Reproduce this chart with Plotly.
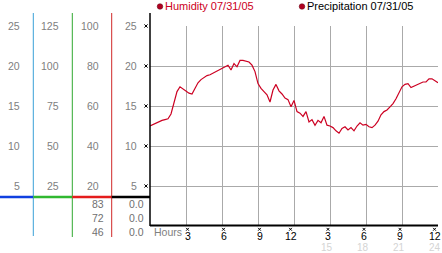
import plotly.graph_objects as go

# ---------------- data ----------------
hours = [i * 0.25 for i in range(97)]
humidity = [
    12.5, 12.7, 12.9, 13.1, 13.2, 13.3, 13.4, 14.0, 15.3, 16.8, 17.4, 17.1,
    16.9, 16.6, 16.5, 17.2, 17.9, 18.3, 18.6, 18.8, 18.9, 19.1, 19.3, 19.5,
    19.7, 19.9, 20.1, 19.5, 20.3, 19.9, 20.7, 20.7, 20.6, 20.5, 20.1, 19.3,
    17.8, 17.2, 16.8, 16.4, 15.5, 17.0, 17.7, 16.9, 16.5, 16.0, 15.8, 14.9,
    15.7, 14.3, 14.1, 13.7, 14.3, 13.0, 13.3, 12.6, 13.2, 12.9, 13.7, 12.6,
    12.5, 12.3, 11.9, 11.6, 12.2, 12.4, 12.0, 12.3, 11.9, 12.5, 12.9, 12.6,
    12.7, 12.4, 12.3, 12.6, 13.1, 13.9, 14.3, 14.5, 14.9, 15.3, 15.9, 16.6,
    17.4, 17.7, 17.8, 17.3, 17.5, 17.6, 17.8, 18.0, 18.0, 18.4, 18.4, 18.2,
    17.9,
]
tick_hours = [3, 6, 9, 12, 15, 18, 21, 24]
tick_labels_top = ["3", "6", "9", "12", "3", "6", "9", "12"]
tick_labels_bottom = ["", "", "", "", "15", "18", "21", "24"]
y_ticks = [25, 20, 15, 10, 5]
scale_a = [25, 20, 15, 10, 5]
scale_b = [125, 100, 75, 50, 25]
scale_c = [100, 80, 60, 40, 20]
humidity_stats = ["83", "72", "46"]
precip_stats = ["0.0", "0.0", "0.0"]
legend_labels = ["Humidity 07/31/05", "Precipitation 07/31/05"]

# ---------------- geometry helpers (pixel -> paper) ----------------
W, H = 442, 253
def X(x):
    return x / W
def Y(y):
    return 1 - y / H

PLOT_L, PLOT_R, PLOT_T, PLOT_B = 150, 438, 26, 226
FONT = "Liberation Sans"
GRAY = "#808080"
RED = "#cc0022"

fig = go.Figure()
fig.add_trace(go.Scatter(
    x=hours, y=humidity, mode="lines",
    line=dict(color=RED, width=1.2), showlegend=False, hoverinfo="skip",
))

shapes = []
def line(x0, y0, x1, y1, color, width):
    shapes.append(dict(type="line", xref="paper", yref="paper",
                       x0=X(x0), y0=Y(y0), x1=X(x1), y1=Y(y1),
                       line=dict(color=color, width=width)))

def cross(cx, cy, r=1.6):
    line(cx - r, cy - r, cx + r, cy + r, "#000000", 1)
    line(cx - r, cy + r, cx + r, cy - r, "#000000", 1)

def dot(cx, cy, r=2.8):
    shapes.append(dict(type="circle", xref="paper", yref="paper",
                       x0=X(cx - r), x1=X(cx + r), y0=Y(cy + r), y1=Y(cy - r),
                       fillcolor="#b00020", line=dict(color="#600010", width=0.5)))

# colored column separators
line(33.3, 13, 33.3, 236, "#3aa0d8", 1)
line(72.3, 13, 72.3, 237, "#30a830", 1)
line(111.7, 13, 111.7, 237, "#d02828", 1)
# colored baseline
line(0, 197, 33.3, 197, "#1040e0", 2.5)
line(33.3, 197, 72.3, 197, "#30b830", 2.5)
line(72.3, 197, 111.7, 197, "#e41c1c", 2.5)
line(111.7, 197, 150, 197, "#000000", 2.5)
# plot axes
line(150, 13, 150, 226, "#000000", 1.5)
line(150, 225.5, 438, 225.5, "#000000", 2)

ann = []
def text(x, y, s, color=GRAY, size=10.5, xanchor="right"):
    ann.append(dict(xref="paper", yref="paper", x=X(x), y=Y(y), text=s,
                    showarrow=False, xanchor=xanchor, yanchor="middle",
                    borderpad=0,
                    font=dict(family=FONT, size=size, color=color)))

ypix = {25: 26, 20: 66, 15: 106, 10: 146, 5: 186}
for a, b, c, v in zip(scale_a, scale_b, scale_c, y_ticks):
    yy = ypix[v]
    text(21, yy, str(a))
    text(60, yy, str(b))
    text(99.5, yy, str(c))
    text(137.5, yy, str(v))
    cross(146, yy)

for i, (h, p) in enumerate(zip(humidity_stats, precip_stats)):
    yy = 204 + i * 14
    text(105, yy, h, color="#707070")
    text(144.5, yy, p, color="#707070")

text(153, 232, "Hours", xanchor="left")
for h, t1, t2 in zip(tick_hours, tick_labels_top, tick_labels_bottom):
    xp = PLOT_L + h * 12
    if len(t1) == 2:
        cx = xp - 3.5
    elif h <= 12:
        cx = xp + 1.5
    else:
        cx = xp - 2
    cross(cx, 229.3, 1.4)
    text(cx, 236, t1, color="#000000", size=10.5, xanchor="center")
    if t2:
        text(xp - 3, 247.5, t2, color="#d4d4d4", size=10, xanchor="center")

# legend
dot(160, 6.5)
text(163.5, 6.5, legend_labels[0], color=RED, size=11, xanchor="left")
dot(302, 6.5)
text(305.5, 6.5, legend_labels[1], color="#000000", size=11, xanchor="left")

fig.update_layout(
    width=W, height=H, margin=dict(l=0, r=0, t=0, b=0),
    paper_bgcolor="white", plot_bgcolor="white",
    shapes=shapes, annotations=ann,
    xaxis=dict(domain=[X(PLOT_L), X(PLOT_R)], range=[0, 24],
               tickvals=tick_hours, showticklabels=False, ticks="",
               showgrid=True, gridcolor="#aaaaaa", gridwidth=1,
               zeroline=False, showline=False, fixedrange=True),
    yaxis=dict(domain=[Y(PLOT_B), Y(PLOT_T)], range=[0, 25],
               tickvals=y_ticks, showticklabels=False, ticks="",
               showgrid=True, gridcolor="#aaaaaa", gridwidth=1,
               zeroline=False, showline=False, fixedrange=True),
    showlegend=False,
)

fig.write_html("out.html", config={"displayModeBar": False})
